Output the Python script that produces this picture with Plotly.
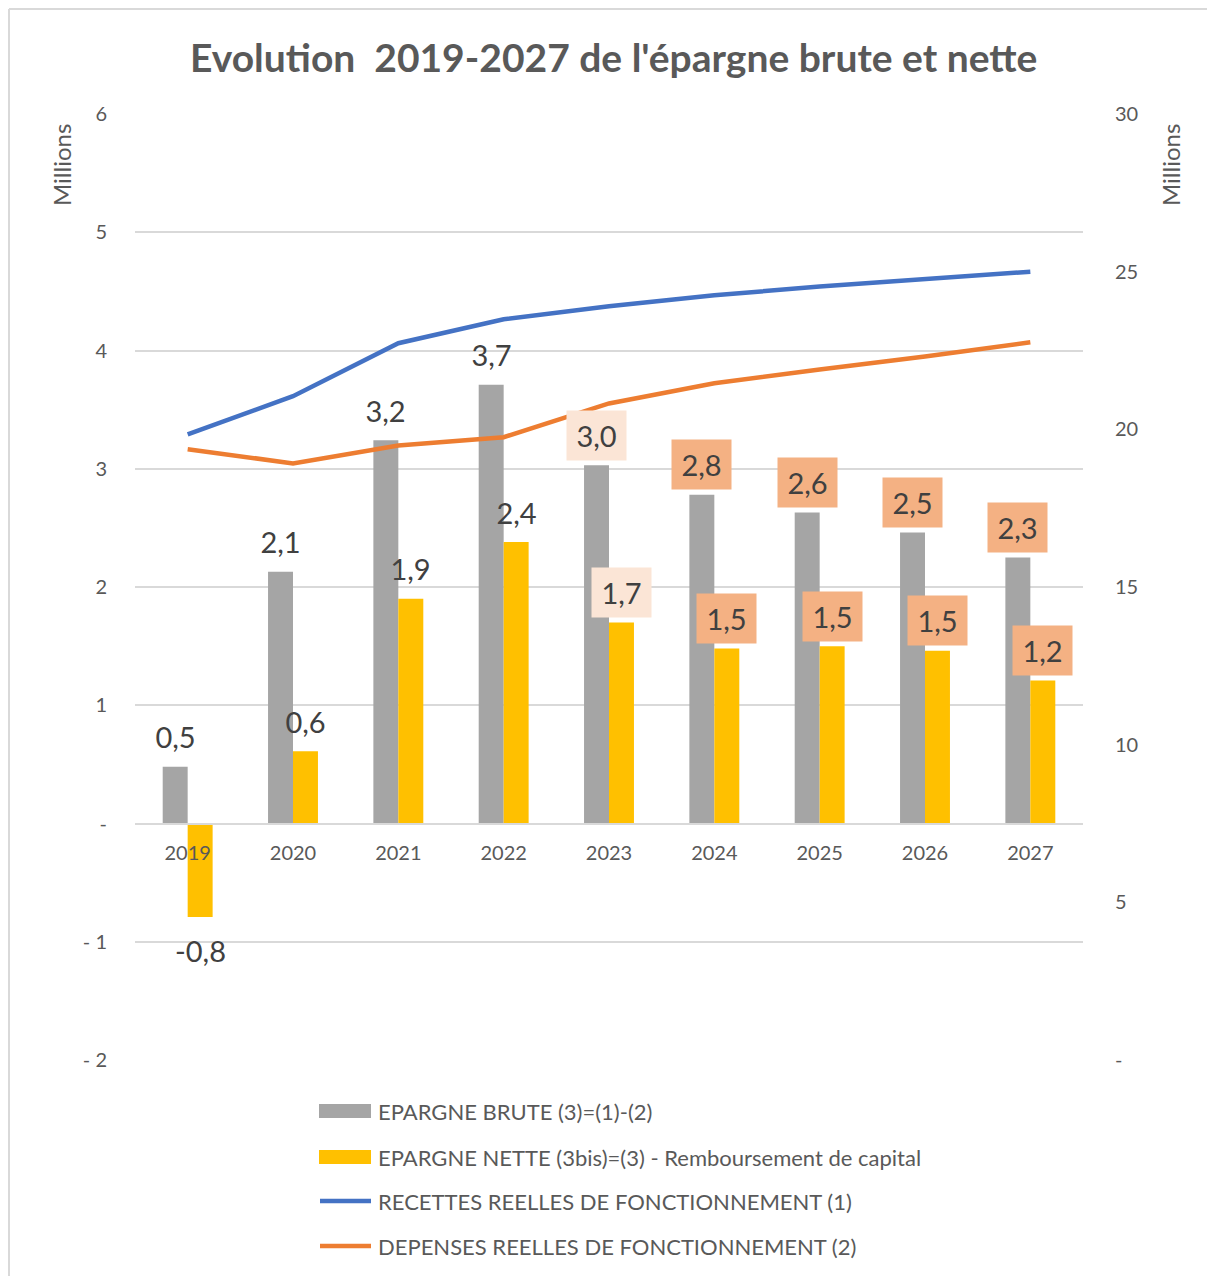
import plotly.graph_objects as go

years = ["2019", "2020", "2021", "2022", "2023", "2024", "2025", "2026", "2027"]
epargne_brute = [0.48, 2.13, 3.24, 3.71, 3.03, 2.78, 2.63, 2.46, 2.25]
epargne_nette = [-0.79, 0.61, 1.90, 2.38, 1.70, 1.48, 1.50, 1.46, 1.21]
recettes = [19.84, 21.05, 22.73, 23.49, 23.90, 24.25, 24.53, 24.78, 25.00]
depenses = [19.37, 18.92, 19.49, 19.75, 20.82, 21.46, 21.90, 22.31, 22.76]
brute_labels = ["0,5", "2,1", "3,2", "3,7", "3,0", "2,8", "2,6", "2,5", "2,3"]
nette_labels = ["-0,8", "0,6", "1,9", "2,4", "1,7", "1,5", "1,5", "1,5", "1,2"]
label_bg = ["none", "none", "none", "none", "light", "dark", "dark", "dark", "dark"]

left_ticks = [-2, -1, 0, 1, 2, 3, 4, 5, 6]
left_ticktext = ["- 2", "- 1", "-", "1", "2", "3", "4", "5", "6"]
right_ticks = [0, 5, 10, 15, 20, 25, 30]
right_ticktext = ["-", "5", "10", "15", "20", "25", "30"]

legend_names = [
    "EPARGNE BRUTE (3)=(1)-(2)",
    "EPARGNE NETTE (3bis)=(3) - Remboursement de capital",
    "RECETTES REELLES DE FONCTIONNEMENT (1)",
    "DEPENSES REELLES DE FONCTIONNEMENT (2)",
]

GRAY = "#A5A5A5"
YELLOW = "#FFC000"
BLUE = "#4472C4"
ORANGE = "#ED7D31"
TXT = "#595959"
LBL = "#404040"
FONT = "Lato"
BG = {"none": "rgba(0,0,0,0)", "light": "#FBE5D6", "dark": "#F4B183"}

O = 8  # page body margin
W, H = 1215 - O, 1276 - O
L, R, T, B = 135 - O, 1083 - O, 114 - O, 1060 - O


def px(x):
    return (x - O - L) / (R - L)


def py(y):
    return (B - (y - O)) / (B - T)


idx = list(range(len(years)))
bw = 0.237

fig = go.Figure()
fig.add_trace(go.Bar(x=idx, y=epargne_brute, width=bw, offset=-bw, marker_color=GRAY,
                     marker_line_width=0, name=legend_names[0], yaxis="y"))
fig.add_trace(go.Bar(x=idx, y=epargne_nette, width=bw, offset=0, marker_color=YELLOW,
                     marker_line_width=0, name=legend_names[1], yaxis="y"))
fig.add_trace(go.Scatter(x=idx, y=recettes, mode="lines", line=dict(color=BLUE, width=4.5),
                         name=legend_names[2], yaxis="y2"))
fig.add_trace(go.Scatter(x=idx, y=depenses, mode="lines", line=dict(color=ORANGE, width=4.5),
                         name=legend_names[3], yaxis="y2"))

annotations = []
for i in idx:
    annotations.append(dict(x=i - bw / 2, y=epargne_brute[i], xref="x", yref="y",
                            text=brute_labels[i], showarrow=False, yshift=30,
                            xanchor="center", yanchor="middle",
                            width=57, height=47, bgcolor=BG[label_bg[i]],
                            font=dict(family=FONT, size=29, color=LBL)))
    ys = 30 if epargne_nette[i] >= 0 else -34
    annotations.append(dict(x=i + bw / 2, y=epargne_nette[i], xref="x", yref="y",
                            text=nette_labels[i], showarrow=False, yshift=ys,
                            xanchor="center", yanchor="middle",
                            width=57, height=47, bgcolor=BG[label_bg[i]],
                            font=dict(family=FONT, size=29, color=LBL)))

# title
annotations.append(dict(x=px(613), y=py(57), xref="paper", yref="paper",
                        text="<b>Evolution  2019-2027 de l'épargne brute et nette</b>",
                        xanchor="center", yanchor="middle",
                        showarrow=False, font=dict(family=FONT, size=39, color=TXT)))
# axis titles
for xm in (61, 1170):
    annotations.append(dict(x=px(xm), y=py(165), xref="paper", yref="paper", text="Millions",
                            textangle=-90, xanchor="center", yanchor="middle", showarrow=False,
                            font=dict(family=FONT, size=24, color=TXT)))

# custom legend
shapes = []
leg_y = [1111, 1157, 1201, 1246]
for k, name in enumerate(legend_names):
    yy = leg_y[k]
    if k < 2:
        shapes.append(dict(type="rect", xref="paper", yref="paper",
                           x0=px(319), x1=px(371), y0=py(yy - 7), y1=py(yy + 7),
                           fillcolor=[GRAY, YELLOW][k], line_width=0))
    else:
        shapes.append(dict(type="line", xref="paper", yref="paper",
                           x0=px(320), x1=px(371), y0=py(yy), y1=py(yy),
                           line=dict(color=[BLUE, ORANGE][k - 2], width=4.5)))
    annotations.append(dict(x=px(376), y=py(yy), xref="paper", yref="paper", text=name,
                            xanchor="left", yanchor="middle", showarrow=False,
                            font=dict(family=FONT, size=22, color=TXT)))

# outer border
shapes.append(dict(type="line", xref="paper", yref="paper", x0=px(9), x1=px(1215),
                   y0=py(9), y1=py(9), line=dict(color="#D9D9D9", width=2)))
shapes.append(dict(type="line", xref="paper", yref="paper", x0=px(9), x1=px(9),
                   y0=py(9), y1=py(1276), line=dict(color="#D9D9D9", width=2)))

fig.update_layout(
    width=W, height=H,
    margin=dict(l=L, r=W - R, t=T, b=H - B),
    paper_bgcolor="white", plot_bgcolor="white",
    showlegend=False,
    barmode="overlay",
    font=dict(family=FONT, color=TXT),
    xaxis=dict(tickvals=idx, ticktext=years, range=[-0.5, len(years) - 0.5],
               anchor="free", position=0.25, showline=True, linecolor="#D9D9D9", linewidth=1.5,
               showgrid=False, ticks="", ticklabelstandoff=12,
               tickfont=dict(family=FONT, size=20, color=TXT), zeroline=False),
    yaxis=dict(range=[-2, 6], tickvals=left_ticks, ticktext=left_ticktext,
               showgrid=True, gridcolor="#D9D9D9", gridwidth=1.5, zeroline=False,
               ticks="", ticklabelstandoff=27,
               tickfont=dict(family=FONT, size=20, color=TXT)),
    yaxis2=dict(range=[0, 30], tickvals=right_ticks, ticktext=right_ticktext,
                overlaying="y", side="right", showgrid=False, zeroline=False,
                ticks="", ticklabelstandoff=31,
                tickfont=dict(family=FONT, size=20, color=TXT)),
    annotations=annotations,
    shapes=shapes,
)

fig.write_html("out.html")
